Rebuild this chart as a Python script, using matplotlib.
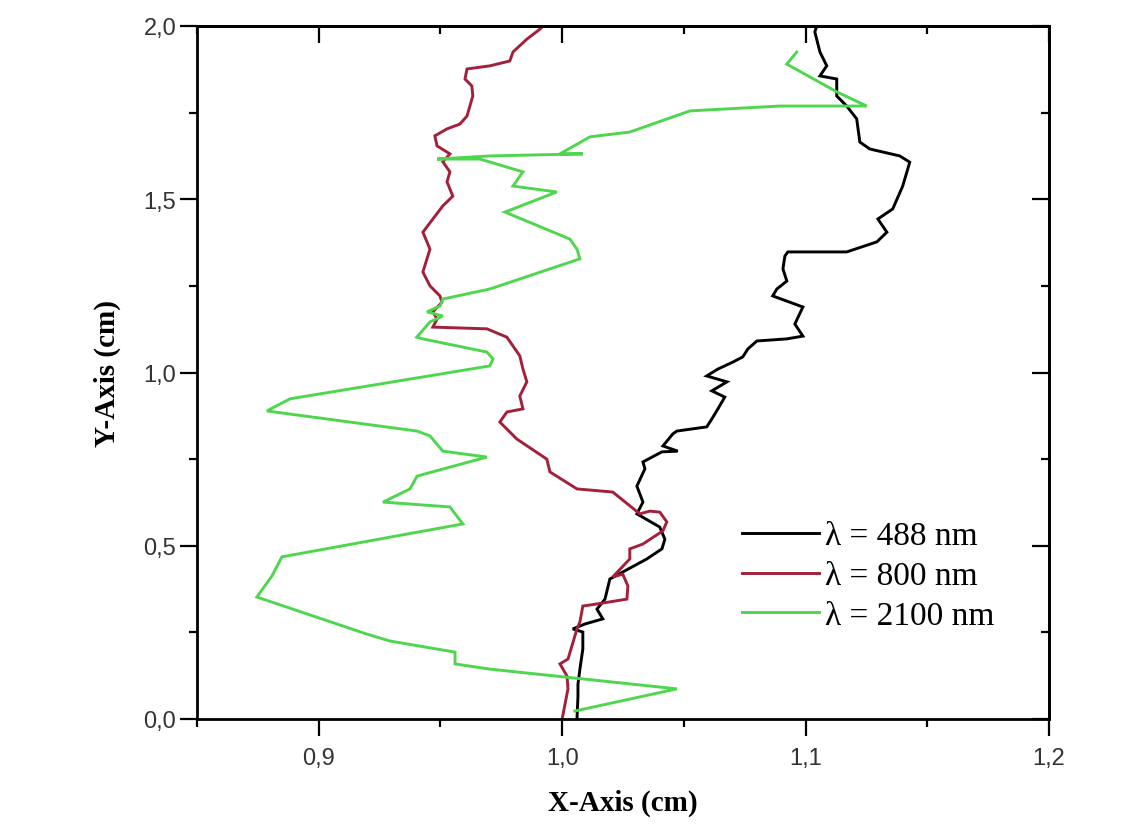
import matplotlib
matplotlib.use("Agg")
import matplotlib.pyplot as plt
from matplotlib.ticker import MultipleLocator, FuncFormatter

# Beam trajectories: x (cm) against y (cm) for three wavelengths
x_488 = [1.0061, 1.0065, 1.0065, 1.0073, 1.0085, 1.0085, 1.0044, 1.0093, 1.0167, 1.0143,
         1.0176, 1.0196, 1.0348, 1.0410, 1.0422, 1.0401, 1.0307, 1.0332, 1.0307, 1.0340,
         1.0332, 1.0410, 1.0475, 1.0414, 1.0455, 1.0471, 1.0594, 1.0615, 1.0640, 1.0668,
         1.0615, 1.0677, 1.0594, 1.0640, 1.0701, 1.0742, 1.0763, 1.0800, 1.0923, 1.0989,
         1.0956, 1.0989, 1.0865, 1.0882, 1.0923, 1.0907, 1.0915, 1.0927, 1.1169, 1.1293,
         1.1334, 1.1297, 1.1358, 1.1399, 1.1428, 1.1387, 1.1264, 1.1223, 1.1210, 1.1169,
         1.1128, 1.1128, 1.1059, 1.1087, 1.1059, 1.1038, 1.1046]
y_488 = [0.000, 0.066, 0.101, 0.144, 0.202, 0.251, 0.260, 0.274, 0.289, 0.317,
         0.346, 0.404, 0.462, 0.491, 0.519, 0.554, 0.592, 0.626, 0.672, 0.722,
         0.742, 0.771, 0.773, 0.788, 0.823, 0.831, 0.843, 0.866, 0.895, 0.929,
         0.947, 0.973, 0.990, 1.010, 1.030, 1.045, 1.068, 1.091, 1.097, 1.105,
         1.140, 1.189, 1.221, 1.241, 1.264, 1.299, 1.336, 1.348, 1.348, 1.377,
         1.405, 1.443, 1.472, 1.538, 1.607, 1.625, 1.645, 1.665, 1.732, 1.769,
         1.798, 1.847, 1.856, 1.885, 1.925, 1.983, 2.000]

x_800 = [1.0000, 1.0024, 1.0020, 0.9991, 1.0024, 1.0061, 1.0073, 1.0085, 1.0143, 1.0266,
         1.0270, 1.0249, 1.0208, 1.0278, 1.0278, 1.0332, 1.0414, 1.0430, 1.0401, 1.0360,
         1.0319, 1.0208, 1.0061, 0.9950, 0.9937, 0.9814, 0.9744, 0.9773, 0.9839, 0.9826,
         0.9855, 0.9839, 0.9826, 0.9773, 0.9691, 0.9469, 0.9486, 0.9469, 0.9506, 0.9498,
         0.9457, 0.9428, 0.9457, 0.9428, 0.9469, 0.9510, 0.9551, 0.9527, 0.9539, 0.9510,
         0.9539, 0.9486, 0.9477, 0.9527, 0.9580, 0.9609, 0.9633, 0.9629, 0.9601, 0.9609,
         0.9703, 0.9785, 0.9798, 0.9855, 0.9909, 0.9921]
y_800 = [0.000, 0.087, 0.124, 0.159, 0.173, 0.260, 0.280, 0.326, 0.332, 0.346,
         0.384, 0.418, 0.410, 0.462, 0.491, 0.505, 0.543, 0.569, 0.597, 0.600,
         0.592, 0.655, 0.664, 0.713, 0.750, 0.808, 0.857, 0.886, 0.895, 0.932,
         0.973, 1.010, 1.048, 1.102, 1.126, 1.131, 1.154, 1.175, 1.203, 1.221,
         1.250, 1.290, 1.356, 1.405, 1.443, 1.481, 1.509, 1.550, 1.579, 1.608,
         1.631, 1.654, 1.683, 1.703, 1.717, 1.740, 1.798, 1.827, 1.847, 1.876,
         1.885, 1.899, 1.925, 1.962, 1.991, 2.000]

x_2100 = [1.0052, 1.0471, 0.9703, 0.9560, 0.9560, 0.9293, 0.9198, 0.8746, 0.8808, 0.8849,
          0.9592, 0.9539, 0.9264, 0.9375, 0.9404, 0.9691, 0.9510, 0.9457, 0.9404, 0.8787,
          0.8882, 0.9703, 0.9716, 0.9691, 0.9428, 0.9403, 0.9457, 0.9510, 0.9445, 0.9498,
          0.9510, 0.9703, 1.0073, 1.0061, 1.0032, 0.9765, 0.9978, 0.9798, 0.9839, 0.9662,
          0.9486, 0.9703, 1.0085, 0.9991, 1.0114, 1.0278, 1.0525, 1.0894, 1.1251, 1.1128,
          1.0923, 1.0964]
y_2100 = [0.023, 0.087, 0.144, 0.159, 0.193, 0.225, 0.245, 0.352, 0.413, 0.468,
          0.563, 0.612, 0.626, 0.664, 0.701, 0.756, 0.773, 0.817, 0.831, 0.889,
          0.924, 1.019, 1.039, 1.059, 1.097, 1.102, 1.146, 1.163, 1.175, 1.192,
          1.212, 1.241, 1.328, 1.356, 1.385, 1.463, 1.521, 1.538, 1.579, 1.616,
          1.616, 1.625, 1.631, 1.631, 1.680, 1.694, 1.755, 1.769, 1.769, 1.810,
          1.890, 1.925]

labels = ["λ = 488 nm", "λ = 800 nm", "λ = 2100 nm"]
colors = ["#000000", "#a3203a", "#4fd64f"]

fig = plt.figure(figsize=(11.47, 8.28), dpi=100)
ax = fig.add_axes([197 / 1147, 1 - 720 / 828, (1049 - 197) / 1147, (720 - 27) / 828])

for xs, ys, lab, col in zip([x_488, x_800, x_2100], [y_488, y_800, y_2100], labels, colors):
    ax.plot(xs, ys, color=col, lw=2.1, label=lab, solid_joinstyle="miter")

ax.set_xlim(0.85, 1.2)
ax.set_ylim(0.0, 2.0)

comma = FuncFormatter(lambda v, p: f"{v:.1f}".replace(".", ","))
ax.xaxis.set_major_locator(MultipleLocator(0.1))
ax.xaxis.set_minor_locator(MultipleLocator(0.05))
ax.yaxis.set_major_locator(MultipleLocator(0.5))
ax.yaxis.set_minor_locator(MultipleLocator(0.25))
ax.xaxis.set_major_formatter(comma)
ax.yaxis.set_major_formatter(comma)

ax.tick_params(which="major", direction="out", length=12, width=1.6, pad=8,
               labelsize=17, labelcolor="#333333")
ax.tick_params(which="minor", direction="out", length=6, width=1.6)
for lab in ax.get_xticklabels() + ax.get_yticklabels():
    lab.set_fontfamily("Liberation Sans")
ax.tick_params(axis="y", which="major", pad=3)

# Inward ticks on the top and right frame
top = ax.secondary_xaxis("top")
top.xaxis.set_major_locator(MultipleLocator(0.1))
top.xaxis.set_minor_locator(MultipleLocator(0.05))
top.tick_params(which="major", direction="in", length=12, width=1.6, labeltop=False)
top.tick_params(which="minor", direction="in", length=6, width=1.6)
right = ax.secondary_yaxis("right")
right.yaxis.set_major_locator(MultipleLocator(0.5))
right.yaxis.set_minor_locator(MultipleLocator(0.25))
right.tick_params(which="major", direction="in", length=12, width=1.6, labelright=False)
right.tick_params(which="minor", direction="in", length=6, width=1.6)
for sp in list(ax.spines.values()) + list(top.spines.values()) + list(right.spines.values()):
    sp.set_linewidth(2.0)

label_font = dict(family="Liberation Serif", weight="bold", size=21)
ax.set_xlabel("X-Axis (cm)", fontdict=label_font, labelpad=14)
ax.set_ylabel("Y-Axis (cm)", fontdict=label_font, labelpad=16)

leg = ax.legend(loc="upper left", bbox_to_anchor=(0.62, 0.31), frameon=False,
                prop=dict(family="Liberation Serif", size=24),
                handlelength=2.3, handletextpad=0.2, labelspacing=0.28, borderpad=0)

fig.savefig("out.png", dpi=100)
